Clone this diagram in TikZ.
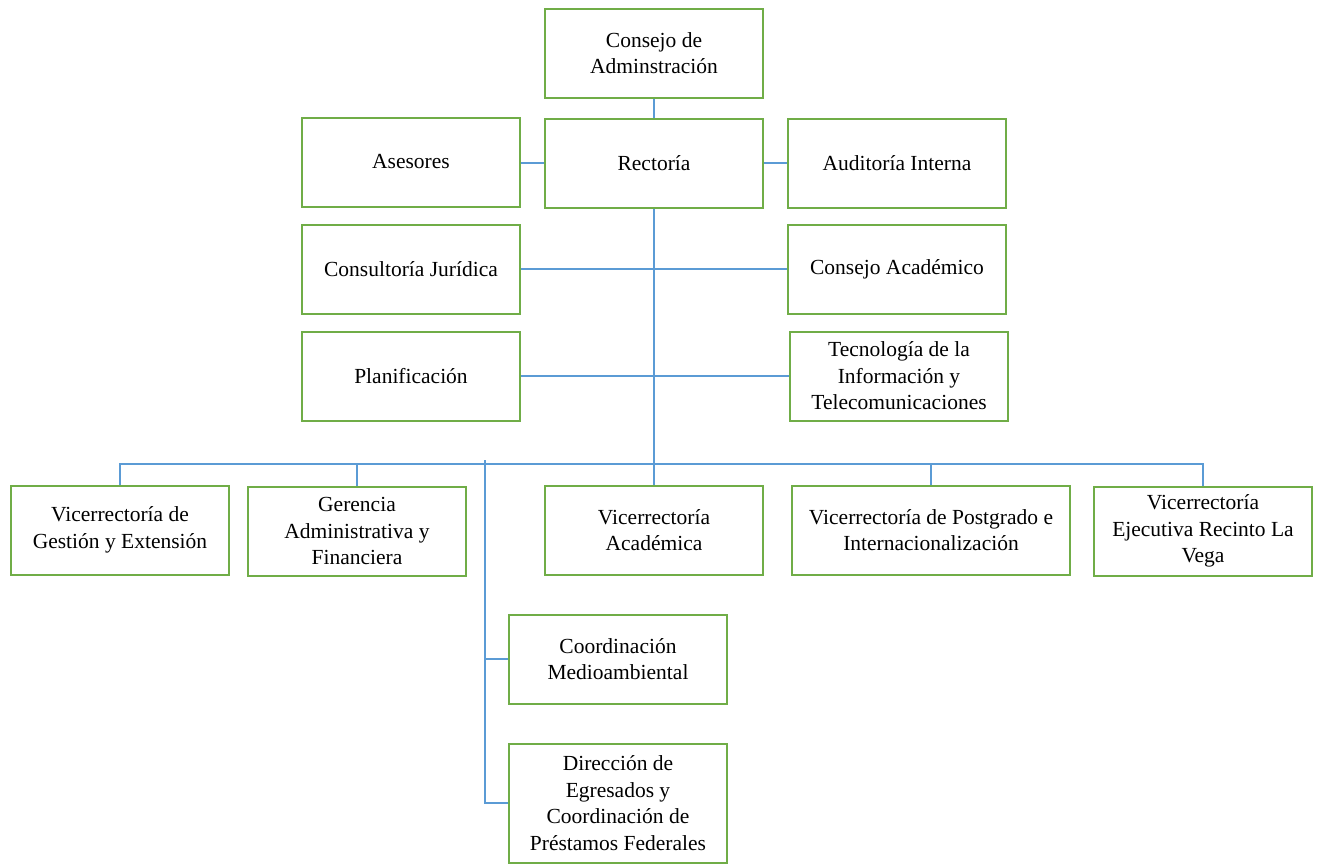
\documentclass[tikz,border=0pt]{standalone}
\usepackage{fontspec}
\setmainfont{Liberation Serif}
\begin{document}
\begin{tikzpicture}[x=1pt,y=-1pt,
  unit/.style={draw=boxgreen,line width=2pt,fill=white,rectangle,
    minimum width=218pt,minimum height=89pt,inner sep=2pt,align=center,
    font=\fontsize{21.5pt}{26.5pt}\selectfont},
  link/.style={draw=linkblue,line width=1.2pt}]
\definecolor{boxgreen}{HTML}{70AD47}
\definecolor{linkblue}{HTML}{5B9BD5}
\useasboundingbox (0,0) rectangle (1319,863);

% top levels
\node[unit] (cons) at (654,53)  {Consejo de\\Adminstración};
\node[unit] (rect) at (654,163) {Rectoría};
\node[unit] (ases) at (411,162) {Asesores};
\node[unit] (audi) at (897,163) {Auditoría Interna};
\node[unit] (jur)  at (411,269) {Consultoría Jurídica};
\node[unit] (acad) at (897,269) {Consejo Académico};
\node[unit] (plan) at (411,376) {Planificación};
\node[unit] (tic)  at (899,376) {Tecnología de la\\Información y\\Telecomunicaciones};

% vice-rectorates
\node[unit] (vge) at (120,530) {Vicerrectoría de\\Gestión y Extensión};
\node[unit] (ger) at (357,531) {Gerencia\\Administrativa y\\Financiera};
\node[unit] (vac) at (654,530) {Vicerrectoría\\Académica};
\node[unit,minimum width=278pt] (vpi) at (931,530) {Vicerrectoría de Postgrado e\\Internacionalización};
\node[unit] (vlv) at (1203,531) {Vicerrectoría\\Ejecutiva Recinto La\\Vega};

% coordinations
\node[unit] (cma) at (618,659) {Coordinación\\Medioambiental};
\node[unit,minimum height=119pt] (deg) at (618,803) {Dirección de\\Egresados y\\Coordinación de\\Préstamos Federales};

% junction points of the connector tree
\coordinate (bus) at (654,464);
\coordinate (lb) at (485,460);

% connectors
\draw[link] (cons.south) -- (rect.north);
\draw[link] (rect.west) -- (rect.west -| ases.east);
\draw[link] (rect.east) -- (audi.west);
\draw[link] (rect.south) -- (vac.north);
\draw[link] (jur.east) -- (acad.west);
\draw[link] (plan.east) -- (tic.west);
\draw[link] (vge.north) -- (vge.north |- bus) -- (vlv.north |- bus) -- (vlv.north);
\draw[link] (ger.north) -- (ger.north |- bus);
\draw[link] (vpi.north) -- (vpi.north |- bus);
\draw[link] (lb) |- (cma.west);
\draw[link] (lb) |- (deg.west);
\end{tikzpicture}
\end{document}
